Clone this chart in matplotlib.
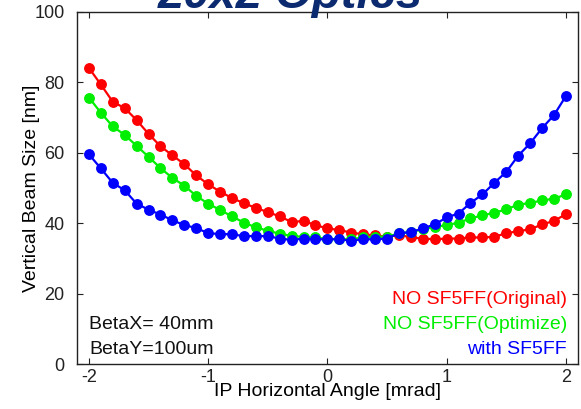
import numpy as np
import matplotlib.pyplot as plt

plt.rcParams['font.family'] = ['Liberation Sans', 'DejaVu Sans']
plt.rcParams['axes.unicode_minus'] = False

# IP horizontal angle scan [mrad], 0.1 step
angle = np.round(np.arange(-2.0, 2.05, 0.1), 2)

# Vertical beam size [nm]
no_sf5ff_orig = [84.1, 79.4, 74.5, 72.7, 69.3, 65.4, 61.9, 59.3, 56.8, 53.6,
                 51.1, 49.0, 47.2, 45.7, 44.4, 43.2, 42.0, 40.4, 40.7, 39.5,
                 38.6, 38.1, 37.4, 36.9, 36.6, 36.2, 36.8, 36.0, 35.7, 35.5,
                 35.7, 35.7, 36.0, 36.0, 36.2, 37.2, 37.8, 38.3, 39.7, 40.7,
                 42.6]
no_sf5ff_opt = [75.7, 71.4, 67.5, 65.1, 62.0, 58.9, 55.7, 52.9, 50.7, 47.8,
                45.6, 43.8, 42.0, 40.2, 38.9, 37.9, 37.1, 36.4, 36.2, 36.0,
                35.6, 35.5, 35.5, 36.0, 36.2, 36.2, 37.2, 37.6, 38.3, 39.0,
                39.5, 40.2, 41.4, 42.3, 43.0, 44.0, 45.3, 45.8, 46.5, 47.0,
                48.2]
with_sf5ff = [59.6, 55.6, 51.5, 49.4, 45.6, 43.9, 42.5, 40.9, 39.5, 38.7,
              37.2, 37.0, 36.9, 36.4, 36.4, 36.4, 35.7, 35.3, 35.7, 35.5,
              35.5, 35.5, 35.1, 35.5, 35.5, 35.7, 37.2, 37.5, 38.6, 39.7,
              41.7, 42.8, 45.8, 48.2, 51.5, 54.6, 59.2, 62.7, 67.0, 70.7,
              76.1]

series = [
    (no_sf5ff_orig, '#ff0000', 'NO SF5FF(Original)'),
    (no_sf5ff_opt, '#00ee00', 'NO SF5FF(Optimize)'),
    (with_sf5ff, '#0000ff', 'with SF5FF'),
]

fig = plt.figure(figsize=(5.81, 4.09), dpi=100)
ax = fig.add_axes([0.1325, 0.109, 0.862, 0.862])

for vals, col, _ in series:
    ax.plot(angle, vals, '-o', color=col, lw=1.6, ms=6.8, mec=col, zorder=3)

ax.set_xlim(-2.1, 2.1)
ax.set_ylim(0, 100)
ax.set_xticks([-2, -1, 0, 1, 2])
ax.set_yticks([0, 20, 40, 60, 80, 100])
ax.tick_params(direction='in', top=True, right=True, labelsize=13,
               length=4, width=0.8, colors='#222222')
ax.tick_params(axis='x', pad=3)
ax.tick_params(axis='y', pad=9)
for sp in ax.spines.values():
    sp.set_linewidth(1.0)
    sp.set_color('#222222')

ax.set_xlabel('IP Horizontal Angle [mrad]', fontsize=14, labelpad=-2)
ax.set_ylabel('Vertical Beam Size [nm]', fontsize=14, labelpad=-4)

# beta function settings
ax.text(0.024, 0.114, 'BetaX= 40mm', transform=ax.transAxes, fontsize=14,
        va='center', ha='left', color='#111111')
ax.text(0.024, 0.043, 'BetaY=100um', transform=ax.transAxes, fontsize=14,
        va='center', ha='left', color='#111111')

# coloured key, right aligned
for i, (_, col, name) in enumerate(series):
    ax.text(0.978, 0.185 - i * 0.071, name, transform=ax.transAxes,
            fontsize=14, va='center', ha='right', color=col)

# page heading, clipped by the top edge
fig.text(0.50, 0.981, '20x2 Optics', fontsize=34, fontweight='bold',
         fontstyle='italic', color='#0b2a6f', ha='center', va='baseline')

fig.savefig('out.png', dpi=100)
